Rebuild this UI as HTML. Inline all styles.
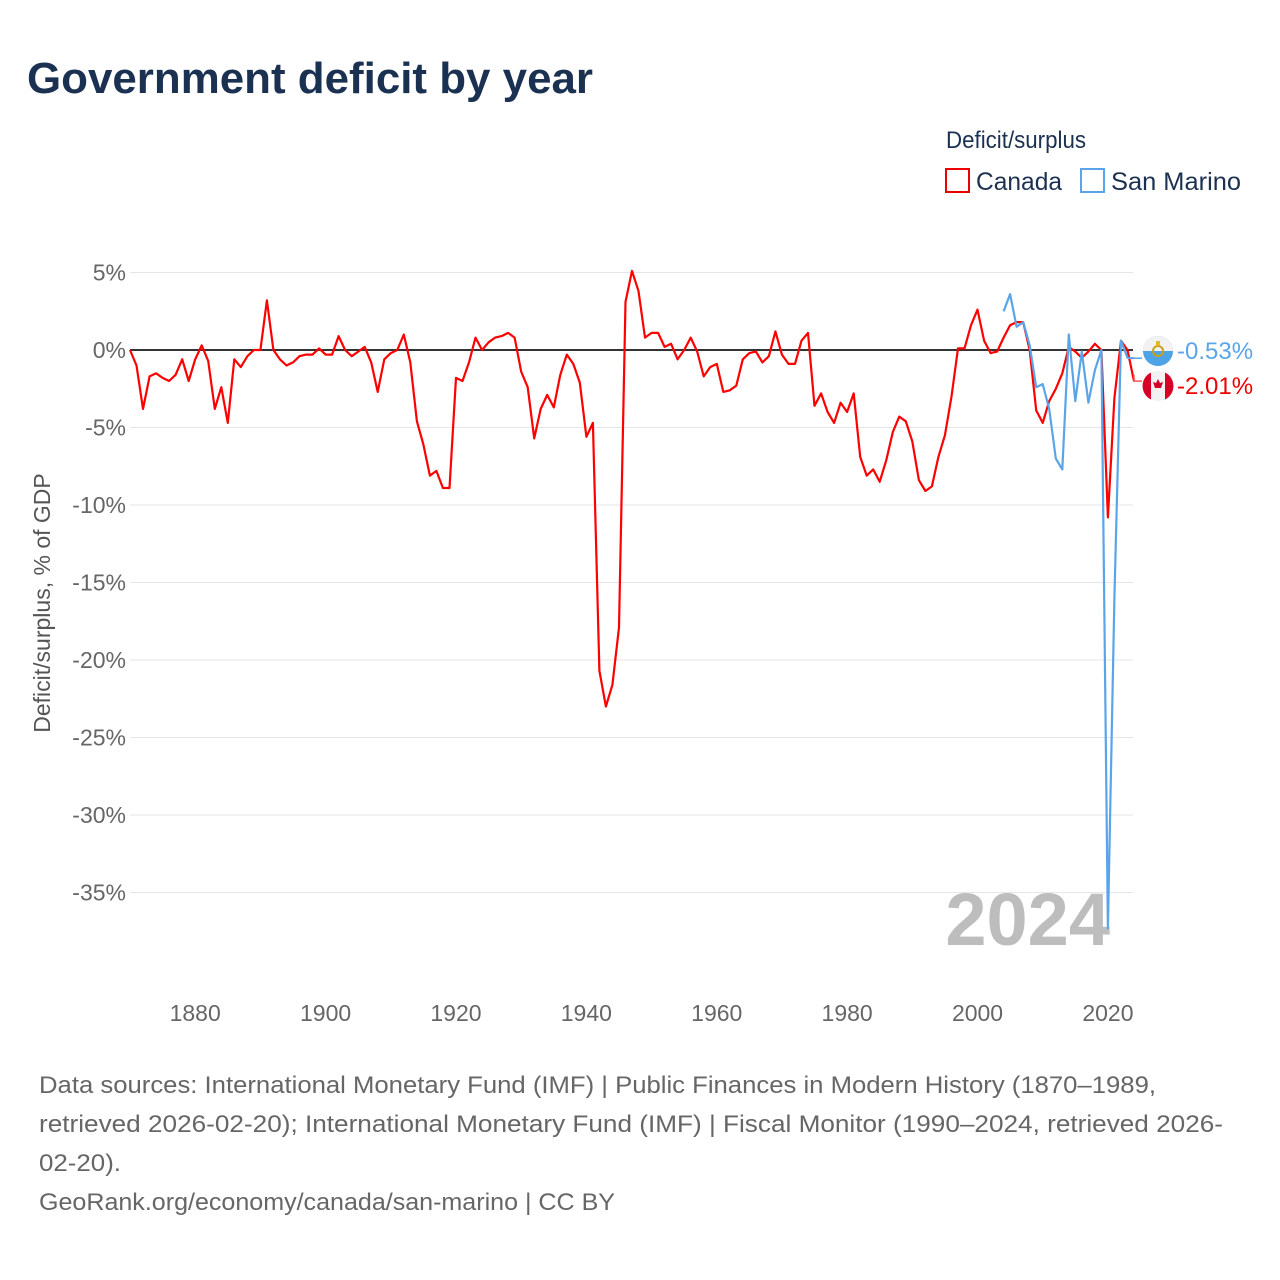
<!DOCTYPE html>
<html><head><meta charset="utf-8"><style>
html,body{margin:0;padding:0;background:#fff;}
svg{display:block;font-family:"Liberation Sans",sans-serif;}
</style></head><body>
<svg id="chart" width="1280" height="1280" viewBox="0 0 1280 1280" xmlns="http://www.w3.org/2000/svg">
<text x="27" y="93" font-size="44" font-weight="bold" fill="#1b3152" textLength="566" lengthAdjust="spacingAndGlyphs">Government deficit by year</text>
<text x="946" y="148" font-size="24" fill="#1b3152" textLength="140" lengthAdjust="spacingAndGlyphs">Deficit/surplus</text>
<g>
<rect x="946" y="169" width="23" height="23" fill="none" stroke="#e00" stroke-width="2"/>
<text x="976" y="190" font-size="25" fill="#1b3152" textLength="86" lengthAdjust="spacingAndGlyphs">Canada</text></g>
<g>
<rect x="1081" y="169" width="23" height="23" fill="none" stroke="#5aa5ea" stroke-width="2"/>
<text x="1111" y="190" font-size="25" fill="#1b3152" textLength="130" lengthAdjust="spacingAndGlyphs">San Marino</text></g>
<g id="grid"></g>
<g id="yticks"></g>
<g id="xticks"></g>
<text transform="translate(50,603) rotate(-90)" text-anchor="middle" font-size="23" fill="#555">Deficit/surplus, % of GDP</text>
<text x="1110" y="945" text-anchor="end" font-size="74" font-weight="bold" fill="#bdbdbd">2024</text>
<line x1="130" x2="1133" y1="350" y2="350" stroke="#333" stroke-width="2"/>
<g id="series"></g>
<g id="labels"></g>
<g font-size="24" fill="#666">
<text x="39" y="1093" textLength="1117" lengthAdjust="spacingAndGlyphs">Data sources: International Monetary Fund (IMF) | Public Finances in Modern History (1870–1989,</text>
<text x="39" y="1132" textLength="1184" lengthAdjust="spacingAndGlyphs">retrieved 2026-02-20); International Monetary Fund (IMF) | Fiscal Monitor (1990–2024, retrieved 2026-</text>
<text x="39" y="1171" textLength="82" lengthAdjust="spacingAndGlyphs">02-20).</text>
<text x="39" y="1210" textLength="576" lengthAdjust="spacingAndGlyphs">GeoRank.org/economy/canada/san-marino | CC BY</text>
</g>
</svg>
<script>
const canadaStart = 1870;
const canadaValues = [0,-1,-3.8,-1.7,-1.5,-1.8,-2.0,-1.6,-0.6,-2.0,-0.6,0.3,-0.7,-3.8,-2.4,-4.7,-0.6,-1.1,-0.4,0,
0,3.2,0,-0.6,-1.0,-0.8,-0.4,-0.3,-0.3,0.1,-0.3,-0.3,0.9,0,-0.4,-0.1,0.2,-0.8,-2.7,-0.6,
-0.2,0,1.0,-0.8,-4.6,-6.1,-8.1,-7.8,-8.9,-8.9,-1.8,-2.0,-0.8,0.8,0,0.5,0.8,0.9,1.1,0.8,
-1.4,-2.4,-5.7,-3.8,-2.9,-3.7,-1.6,-0.3,-0.9,-2.1,-5.6,-4.7,-20.7,-23,-21.6,-17.9,3.1,5.1,3.8,0.8,
1.1,1.1,0.2,0.4,-0.6,0,0.8,-0.1,-1.7,-1.1,-0.9,-2.7,-2.6,-2.3,-0.6,-0.2,-0.1,-0.8,-0.4,1.2,
-0.3,-0.9,-0.9,0.6,1.1,-3.6,-2.8,-4.0,-4.7,-3.4,-4.0,-2.8,-6.9,-8.1,-7.7,-8.5,-7.1,-5.3,-4.3,-4.6,
-5.9,-8.4,-9.1,-8.8,-6.9,-5.5,-3,0.1,0.1,1.6,2.6,0.6,-0.2,-0.1,0.8,1.6,1.8,1.8,0,-3.9,
-4.7,-3.3,-2.5,-1.5,0.2,-0.1,-0.5,-0.1,0.4,0,-10.8,-3.1,0.6,0.0,-2.01];
const sanMarinoStart = 2004;
const sanMarinoValues = [2.5,3.6,1.5,1.8,0.3,-2.4,-2.2,-3.8,-7.0,-7.7,1.0,-3.3,-0.1,-3.4,-1.3,0,-37.3,-16,0.6,-0.5,-0.53];
const yTicks = [5,0,-5,-10,-15,-20,-25,-30,-35];
const xTicks = [1880,1900,1920,1940,1960,1980,2000,2020];
const endLabels = ["-0.53%","-2.01%"];

const NS="http://www.w3.org/2000/svg";
const xS = yr => 130 + (yr-1870)*(1134-130)/(2024-1870);
const yS = v => 350 - v*15.5;
function mk(tag, parent, attrs){const e=document.createElementNS(NS,tag);for(const k in attrs)e.setAttribute(k,attrs[k]);parent.appendChild(e);return e;}
const grid=document.getElementById('grid'), yt=document.getElementById('yticks'), xt=document.getElementById('xticks');
yTicks.forEach(v=>{
  const l=mk('line',grid,{x1:130,x2:1133,y1:yS(v),y2:yS(v),stroke:'#e6e6e6','stroke-width':1});
  
  
  const t=mk('text',yt,{x:126,y:yS(v)+8,'text-anchor':'end','font-size':23,fill:'#666'});
  t.textContent=v+'%';
  
  
});
xTicks.forEach(yr=>{
  const t=mk('text',xt,{x:xS(yr),y:1021,'text-anchor':'middle','font-size':23,fill:'#666'});
  t.textContent=yr;
  
  
});
const ser=document.getElementById('series');
function line(start, vals, color, name){
  const pts=vals.map((v,i)=>xS(start+i).toFixed(1)+','+yS(v).toFixed(1)).join(' ');
  const p=mk('polyline',ser,{points:pts,fill:'none',stroke:color,'stroke-width':2.2,'stroke-linejoin':'round'});
  
  
}
line(canadaStart,canadaValues,'#f00','canada-line');
line(sanMarinoStart,sanMarinoValues,'#5aa5ea','san-marino-line');
const lab=document.getElementById('labels');
const smY=yS(sanMarinoValues[sanMarinoValues.length-1]), caY=yS(canadaValues[canadaValues.length-1]);
mk('path',lab,{d:`M1134 ${smY} H1142`,stroke:'#5aa5ea','stroke-width':1.5,fill:'none'});
const f1=mk('g',lab,{});


mk('circle',f1,{cx:1158,cy:351,r:15,fill:'#4da3e6'});
mk('path',f1,{d:'M1143 351 A15 15 0 0 1 1173 351 Z',fill:'#f2f2f2'});
mk('circle',f1,{cx:1158,cy:351,r:5,fill:'none',stroke:'#c9a21a','stroke-width':2});
mk('rect',f1,{x:1156,y:341,width:4,height:5,fill:'#e4b826'});
const t1=mk('text',lab,{x:1177,y:359,'font-size':24,fill:'#5aa5ea'});
t1.textContent=endLabels[0];


mk('path',lab,{d:`M1134 375 V${caY} H1142`,stroke:'#f55','stroke-width':1.5,fill:'none'});
const f2=mk('g',lab,{});


mk('circle',f2,{cx:1158,cy:386,r:15,fill:'#f2f2f2'});
mk('path',f2,{d:'M1151 372.5 A15 15 0 0 0 1151 399.5 Z',fill:'#d80027'});
mk('path',f2,{d:'M1165 372.5 A15 15 0 0 1 1165 399.5 Z',fill:'#d80027'});
mk('path',f2,{d:'M1158 379 L1160 383 L1163 382 L1161 388 L1158 388 L1155 388 L1153 382 L1156 383 Z',fill:'#d80027'});
const t2=mk('text',lab,{x:1177,y:394,'font-size':24,fill:'#e00'});
t2.textContent=endLabels[1];


</script>
</body></html>
